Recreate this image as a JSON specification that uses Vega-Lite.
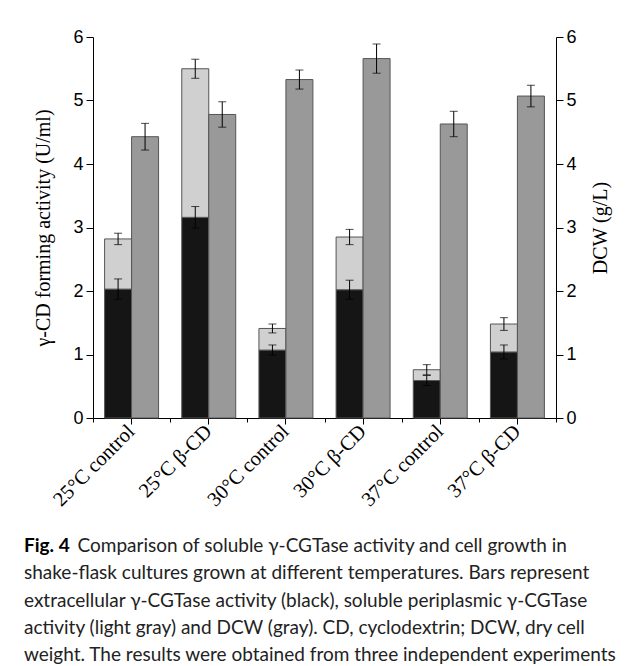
{
  "$schema": "https://vega.github.io/schema/vega-lite/v6.json",
  "width": 463,
  "height": 381,
  "autosize": {"type": "none"},
  "padding": {"left": 93, "top": 37, "right": 69, "bottom": 248},
  "background": "white",
  "config": {
    "view": {"stroke": null},
    "axis": {"grid": false, "domainColor": "black", "tickColor": "black", "labelColor": "black", "titleColor": "black", "domainWidth": 1, "tickWidth": 1}
  },
  "title": {
    "text": "Fig. 4",
    "subtitle": [
      "\u200b\u00a0\u00a0\u00a0\u00a0\u00a0\u00a0\u00a0\u00a0\u00a0\u00a0\u00a0Comparison of soluble γ-CGTase activity and cell growth in",
      "shake-flask cultures grown at different temperatures. Bars represent",
      "extracellular γ-CGTase activity (black), soluble periplasmic γ-CGTase",
      "activity (light gray) and DCW (gray). CD, cyclodextrin; DCW, dry cell",
      "weight. The results were obtained from three independent experiments"
    ],
    "orient": "bottom",
    "anchor": "start",
    "frame": "bounds",
    "dx": -10,
    "offset": 27,
    "font": "Lato",
    "fontSize": 19,
    "fontWeight": "bold",
    "color": "black",
    "subtitleFont": "Lato",
    "subtitleFontSize": 19,
    "subtitleColor": "#222222",
    "subtitleLineHeight": 27.3,
    "subtitlePadding": -19
  },
  "data": {
    "values": [
      {"condition": "25°C control", "measure": "activity", "series": "extracellular", "value": 2.03, "err": 0.16},
      {"condition": "25°C control", "measure": "activity", "series": "periplasmic", "value": 0.79, "err": 0.09},
      {"condition": "25°C control", "measure": "DCW", "series": "DCW", "value": 4.43, "err": 0.21},
      {"condition": "25°C β-CD", "measure": "activity", "series": "extracellular", "value": 3.16, "err": 0.17},
      {"condition": "25°C β-CD", "measure": "activity", "series": "periplasmic", "value": 2.34, "err": 0.15},
      {"condition": "25°C β-CD", "measure": "DCW", "series": "DCW", "value": 4.78, "err": 0.2},
      {"condition": "30°C control", "measure": "activity", "series": "extracellular", "value": 1.07, "err": 0.08},
      {"condition": "30°C control", "measure": "activity", "series": "periplasmic", "value": 0.34, "err": 0.07},
      {"condition": "30°C control", "measure": "DCW", "series": "DCW", "value": 5.33, "err": 0.15},
      {"condition": "30°C β-CD", "measure": "activity", "series": "extracellular", "value": 2.02, "err": 0.15},
      {"condition": "30°C β-CD", "measure": "activity", "series": "periplasmic", "value": 0.83, "err": 0.12},
      {"condition": "30°C β-CD", "measure": "DCW", "series": "DCW", "value": 5.66, "err": 0.23},
      {"condition": "37°C control", "measure": "activity", "series": "extracellular", "value": 0.59, "err": 0.08},
      {"condition": "37°C control", "measure": "activity", "series": "periplasmic", "value": 0.17, "err": 0.08},
      {"condition": "37°C control", "measure": "DCW", "series": "DCW", "value": 4.63, "err": 0.2},
      {"condition": "37°C β-CD", "measure": "activity", "series": "extracellular", "value": 1.04, "err": 0.11},
      {"condition": "37°C β-CD", "measure": "activity", "series": "periplasmic", "value": 0.44, "err": 0.1},
      {"condition": "37°C β-CD", "measure": "DCW", "series": "DCW", "value": 5.07, "err": 0.17}
    ]
  },
  "resolve": {"scale": {"y": "independent"}, "axis": {"x": "independent"}},
  "layer": [
    {
      "transform": [
        {"filter": "datum.measure === 'activity'"},
        {"stack": "value", "groupby": ["condition"], "sort": [{"field": "series", "order": "ascending"}], "as": ["v0", "v1"]}
      ],
      "layer": [
        {
          "mark": {"type": "bar", "stroke": "#555555", "strokeWidth": 1},
          "encoding": {
            "x": {"field": "condition", "type": "nominal", "title": null,
              "scale": {"domain": ["25°C control", "25°C β-CD", "30°C control", "30°C β-CD", "37°C control", "37°C β-CD"], "paddingInner": 0, "paddingOuter": 0},
              "axis": {"orient": "bottom", "labelAngle": -45, "labelAlign": "right", "labelBaseline": "middle", "labelFont": "Liberation Serif", "labelFontSize": 20.5, "tickSize": 6, "labelPadding": 4, "domain": true}},
            "xOffset": {"field": "measure", "type": "nominal", "scale": {"domain": ["activity", "DCW"], "paddingInner": 0, "paddingOuter": 0.43}},
            "y": {"field": "v0", "type": "quantitative", "scale": {"domain": [0, 6], "nice": false}, "title": "γ-CD forming activity (U/ml)",
              "axis": {"orient": "left", "titleFont": "Liberation Serif", "titleFontSize": 20, "titleFontWeight": "normal", "titlePadding": 19,
                "values": [0, 0.5, 1, 1.5, 2, 2.5, 3, 3.5, 4, 4.5, 5, 5.5, 6],
                "labelExpr": "datum.value % 1 === 0 ? format(datum.value, 'd') : ''",
                "tickSize": {"condition": {"test": "datum.value % 1 !== 0", "value": 4}, "value": 7},
                "labelFont": "Liberation Sans", "labelFontSize": 18, "labelPadding": 3}},
            "y2": {"field": "v1"},
            "color": {"field": "series", "type": "nominal", "scale": {"domain": ["extracellular", "periplasmic"], "range": ["#151515", "#d0d0d0"]}, "legend": null}
          }
        },
        {
          "mark": {"type": "errorbar", "color": "black", "ticks": {"size": 8, "color": "black"}},
          "encoding": {
            "x": {"field": "condition", "type": "nominal", "title": null},
            "xOffset": {"field": "measure", "type": "nominal"},
            "y": {"field": "v1", "type": "quantitative", "title": "γ-CD forming activity (U/ml)"},
            "yError": {"field": "err"}
          }
        }
      ]
    },
    {
      "transform": [{"filter": "datum.measure === 'DCW'"}],
      "layer": [
        {
          "mark": {"type": "bar", "stroke": "#555555", "strokeWidth": 1, "color": "#999999"},
          "encoding": {
            "x": {"field": "condition", "type": "nominal", "title": null,
              "axis": {"orient": "bottom", "labels": false, "tickBand": "extent", "tickSize": 4, "domain": true}},
            "xOffset": {"field": "measure", "type": "nominal"},
            "y": {"field": "value", "type": "quantitative", "scale": {"domain": [0, 6], "nice": false}, "title": "DCW (g/L)",
              "axis": {"orient": "right", "titleFont": "Liberation Serif", "titleFontSize": 20, "titleFontWeight": "normal", "titleAngle": 270, "titleBaseline": "top", "titlePadding": 14,
                "values": [0, 0.5, 1, 1.5, 2, 2.5, 3, 3.5, 4, 4.5, 5, 5.5, 6],
                "labelExpr": "datum.value % 1 === 0 ? format(datum.value, 'd') : ''",
                "tickSize": {"condition": {"test": "datum.value % 1 !== 0", "value": 4}, "value": 7},
                "labelFont": "Liberation Sans", "labelFontSize": 18, "labelPadding": 3}}
          }
        },
        {
          "mark": {"type": "errorbar", "color": "black", "ticks": {"size": 8, "color": "black"}},
          "encoding": {
            "x": {"field": "condition", "type": "nominal", "title": null},
            "xOffset": {"field": "measure", "type": "nominal"},
            "y": {"field": "value", "type": "quantitative", "title": "DCW (g/L)"},
            "yError": {"field": "err"}
          }
        }
      ]
    }
  ]
}
